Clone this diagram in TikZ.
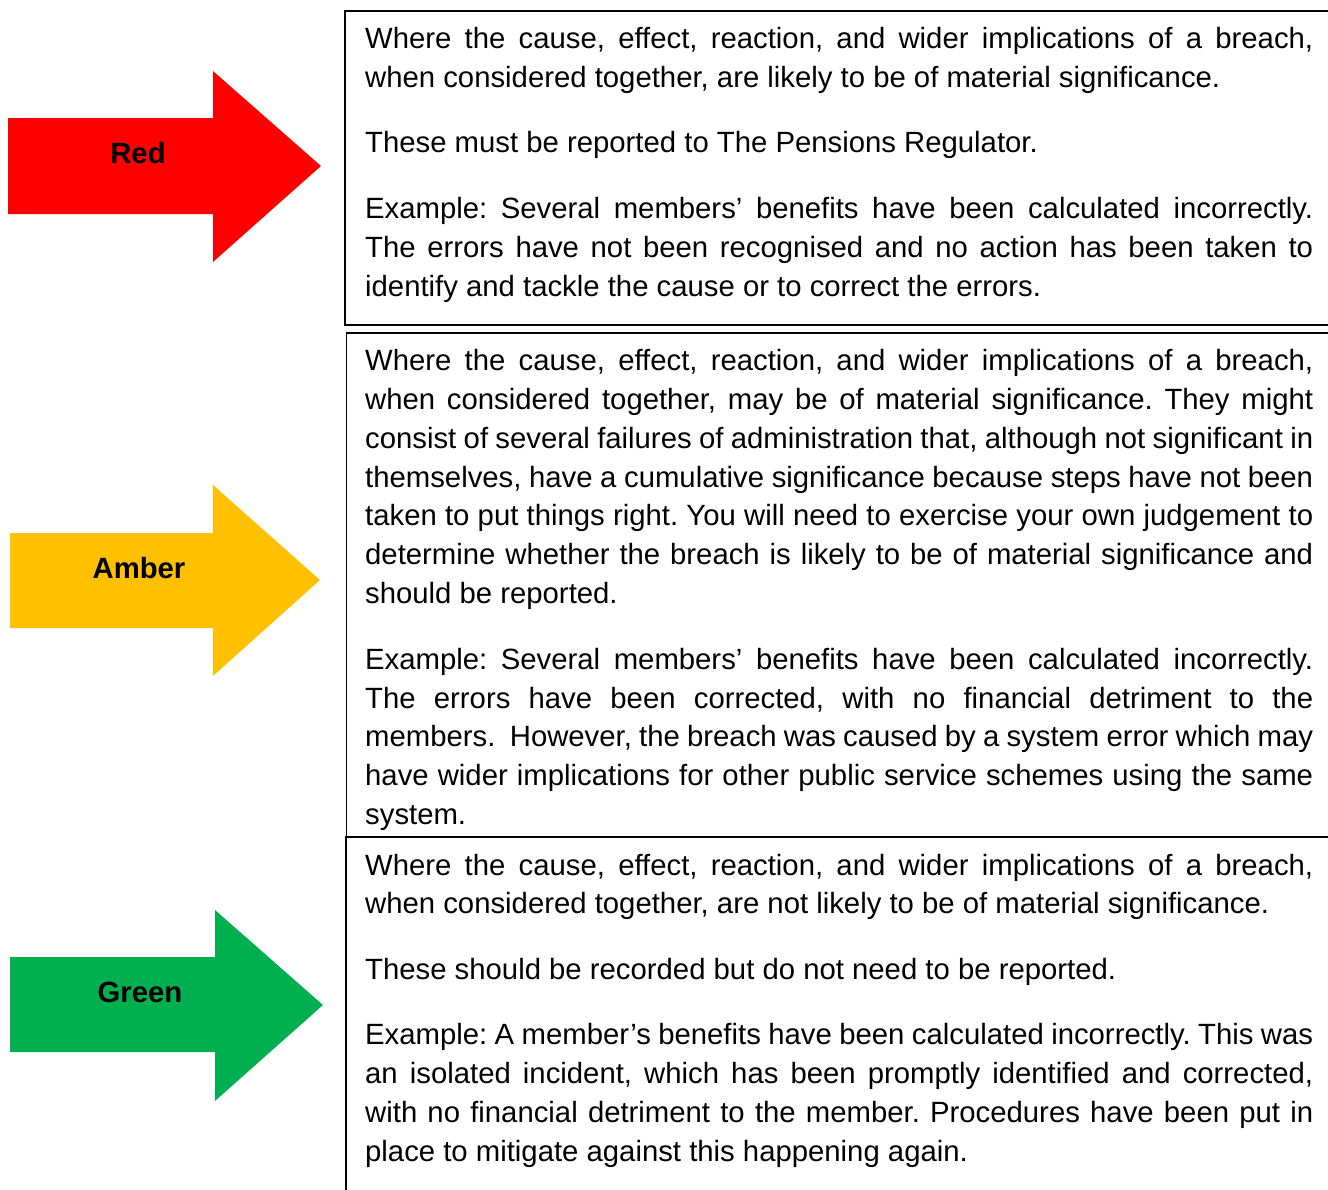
\documentclass[tikz,border=0pt]{standalone}
\usepackage{fontspec}
\setmainfont{Liberation Sans}
\frenchspacing
\definecolor{cred}{HTML}{FF0000}
\definecolor{camber}{HTML}{FFC000}
\definecolor{cgreen}{HTML}{00B050}
\newcommand\jl[1]{\makebox[948pt][s]{#1}}
\tikzset{
  ln/.style={anchor=base west, inner sep=0pt, font=\fontsize{29.3}{38.8}\selectfont},
  lbl/.style={anchor=base, inner sep=0pt, font=\fontsize{29.3}{38.8}\selectfont\bfseries},
  boxline/.style={draw=black, line width=1.8pt},
}
\begin{document}
\begin{tikzpicture}[x=1pt,y=-1pt]
\useasboundingbox (0,0) rectangle (1328,1189);
\clip (0,0) rectangle (1328,1189);
% arrows
\fill[cred] (8,118) -- (213,118) -- (213,71) -- (321,166) -- (213,262) -- (213,214) -- (8,214) -- cycle;
\fill[camber] (10,533) -- (213,533) -- (213,485) -- (320,580) -- (213,676) -- (213,628) -- (10,628) -- cycle;
\fill[cgreen] (10,957) -- (215,957) -- (215,910) -- (323,1005) -- (215,1101) -- (215,1052) -- (10,1052) -- cycle;
\node[lbl] (red) at (138,163) {Red};
\node[lbl] (amber) at (139,578) {Amber};
\node[lbl] (green) at (140,1002) {Green};
% boxes
\draw[boxline] (345,11) rectangle (1345,325);
\draw[boxline] (346.5,333) rectangle (1345,837);
\draw[boxline] (346,837) rectangle (1345,1200);
% box 1
\node[ln] (a1) at (365,48.5) {\jl{Where the cause, effect, reaction, and wider implications of a breach,}};
\node[ln] (a2) at (365,87.5) {when considered together, are likely to be of material significance.};
\node[ln] (a3) at (365,152.5) {These must be reported to The Pensions Regulator.};
\node[ln] (a4) at (365,218.5) {\jl{Example: Several members’ benefits have been calculated incorrectly.}};
\node[ln] (a5) at (365,257.5) {\jl{The errors have not been recognised and no action has been taken to}};
\node[ln] (a6) at (365,296.5) {identify and tackle the cause or to correct the errors.};
% box 2
\node[ln] (b1) at (365,370.5) {\jl{Where the cause, effect, reaction, and wider implications of a breach,}};
\node[ln] (b2) at (365,409.5) {\jl{when considered together, may be of material significance. They might}};
\node[ln] (b3) at (365,448.5) {\jl{consist of several failures of administration that, although not significant in}};
\node[ln] (b4) at (365,487.5) {\jl{themselves, have a cumulative significance because steps have not been}};
\node[ln] (b5) at (365,525.5) {\jl{taken to put things right. You will need to exercise your own judgement to}};
\node[ln] (b6) at (365,564.5) {\jl{determine whether the breach is likely to be of material significance and}};
\node[ln] (b7) at (365,603.5) {should be reported.};
\node[ln] (b8) at (365,669.5) {\jl{Example: Several members’ benefits have been calculated incorrectly.}};
\node[ln] (b9) at (365,708.5) {\jl{The errors have been corrected, with no financial detriment to the}};
\node[ln] (b10) at (365,746.5) {\jl{members.\ \ However, the breach was caused by a system error which may}};
\node[ln] (b11) at (365,785.5) {\jl{have wider implications for other public service schemes using the same}};
\node[ln] (b12) at (365,824.5) {system.};
% box 3
\node[ln] (c1) at (365,875.5) {\jl{Where the cause, effect, reaction, and wider implications of a breach,}};
\node[ln] (c2) at (365,913.5) {when considered together, are not likely to be of material significance.};
\node[ln] (c3) at (365,979.5) {These should be recorded but do not need to be reported.};
\node[ln] (c4) at (365,1044.5) {\jl{Example: A member’s benefits have been calculated incorrectly. This was}};
\node[ln] (c5) at (365,1083.5) {\jl{an isolated incident, which has been promptly identified and corrected,}};
\node[ln] (c6) at (365,1122.5) {\jl{with no financial detriment to the member. Procedures have been put in}};
\node[ln] (c7) at (365,1161.5) {place to mitigate against this happening again.};
\end{tikzpicture}
\end{document}
